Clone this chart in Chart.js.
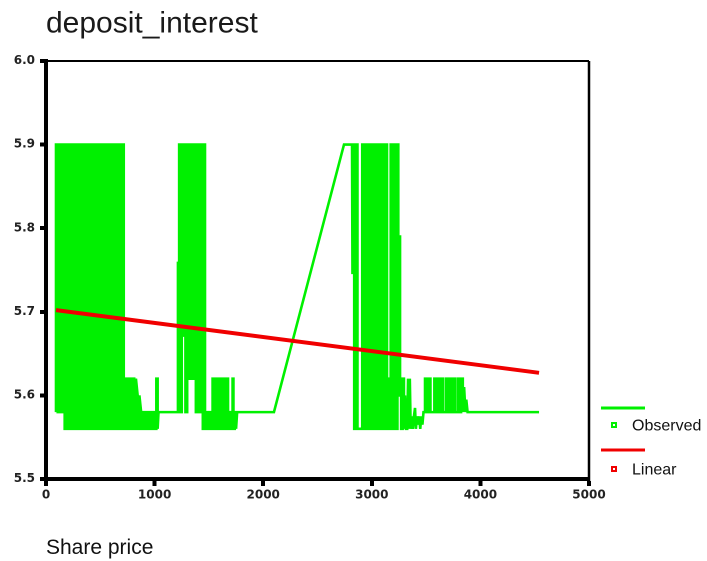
<!DOCTYPE html>
<html>
<head>
<meta charset="utf-8">
<title>deposit_interest</title>
<style>
  html, body { margin: 0; padding: 0; background: #ffffff; }
  canvas { display: block; width: 707px; height: 561px; }
</style>
<script src="https://cdn.jsdelivr.net/npm/chart.js@4.4.1/dist/chart.umd.min.js"></script>
</head>
<body>
<canvas id="chart" width="707" height="561"></canvas>
<script>
// Observed deposit interest rate (%) against share price, ordered by share price.
// Several observations often share a price, so a price can appear twice in a row.
const sharePrice = [
  // first high-rate period
  92,92,108,108,124,124,140,140,156,156,
  172,172,188,188,204,204,220,220,236,236,
  252,252,268,268,284,284,300,300,316,316,
  332,332,348,348,364,364,380,380,396,396,
  412,412,428,428,444,444,460,460,476,476,
  492,492,508,508,524,524,540,540,556,556,
  572,572,588,588,604,604,620,620,636,636,
  652,652,668,668,684,684,700,700,716,716,
  // low-rate stretch
  732,732,748,748,764,764,780,780,796,796,
  812,812,828,828,844,844,860,860,876,876,
  892,892,908,908,924,924,940,940,956,956,
  972,972,988,988,1004,1004,1016,1016,1028,1028,
  1036,1210,
  // second high-rate period
  1215,1215,1220,1226,1226,1242,1242,1250,1250,1266,
  1266,1268,1284,1284,1300,1300,1316,1316,1332,1332,
  1348,1348,1364,1364,1380,1380,1396,1396,1412,1412,
  1428,1428,1444,1444,1458,1458,1464,1464,
  // low-rate stretch and the rise
  1480,1480,1496,1496,1504,1504,1512,1512,1534,1534,
  1550,1550,1566,1566,1582,1582,1598,1598,1614,1614,
  1630,1630,1646,1646,1662,1662,1676,1676,1692,1692,
  1706,1706,1718,1718,1726,1726,1738,1738,1750,1750,
  1760,2099,2744,
  // third high-rate period
  2818,2822,2826,2838,2838,2854,2854,2868,2868,2912,
  2912,2928,2928,2944,2944,2960,2960,2976,2976,2992,
  2992,3008,3008,3024,3024,3040,3040,3056,3056,3072,
  3072,3088,3088,3104,3104,3120,3120,3130,3130,3140,
  3140,3152,3152,3164,3164,3174,3174,3190,3190,3206,
  3206,3222,3222,3236,3236,
  // final low-rate stretch
  3244,3244,3252,3252,3260,3260,3270,3270,3284,3284,
  3296,3296,3306,3314,3326,3334,3342,3350,3358,3368,
  3378,3388,3398,3406,3416,3426,3436,3446,3456,3466,
  3476,3490,3490,3506,3506,3522,3522,3540,3540,3576,
  3576,3592,3592,3608,3608,3624,3624,3640,3640,3656,
  3656,3684,3684,3700,3700,3716,3716,3732,3732,3748,
  3748,3764,3764,3790,3790,3806,3806,3822,3822,3838,
  3838,3850,3862,3870,3882,4540
];

const depositInterest = [
  5.58,5.90,5.90,5.58,5.58,5.90,5.90,5.58,5.58,5.90,
  5.90,5.56,5.56,5.90,5.90,5.56,5.56,5.90,5.90,5.56,
  5.56,5.90,5.90,5.56,5.56,5.90,5.90,5.56,5.56,5.90,
  5.90,5.56,5.56,5.90,5.90,5.56,5.56,5.90,5.90,5.56,
  5.56,5.90,5.90,5.56,5.56,5.90,5.90,5.56,5.56,5.90,
  5.90,5.56,5.56,5.90,5.90,5.56,5.56,5.90,5.90,5.56,
  5.56,5.90,5.90,5.56,5.56,5.90,5.90,5.56,5.56,5.90,
  5.90,5.56,5.56,5.90,5.90,5.56,5.56,5.90,5.90,5.56,

  5.56,5.62,5.62,5.56,5.56,5.62,5.62,5.56,5.56,5.62,
  5.62,5.56,5.56,5.62,5.60,5.56,5.56,5.60,5.58,5.56,
  5.56,5.58,5.58,5.56,5.56,5.58,5.58,5.56,5.56,5.58,
  5.58,5.56,5.56,5.58,5.58,5.56,5.56,5.62,5.62,5.56,
  5.58,5.58,

  5.58,5.76,5.58,5.58,5.90,5.90,5.58,5.58,5.90,5.90,
  5.67,5.90,5.90,5.58,5.58,5.90,5.90,5.62,5.62,5.90,
  5.90,5.62,5.62,5.90,5.90,5.58,5.58,5.90,5.90,5.58,
  5.58,5.90,5.90,5.56,5.56,5.90,5.90,5.56,

  5.56,5.58,5.58,5.56,5.56,5.58,5.58,5.56,5.56,5.62,
  5.62,5.56,5.56,5.62,5.62,5.56,5.56,5.62,5.62,5.56,
  5.56,5.62,5.62,5.56,5.56,5.62,5.62,5.56,5.56,5.58,
  5.58,5.56,5.56,5.62,5.62,5.56,5.56,5.58,5.58,5.56,
  5.58,5.58,5.90,

  5.90,5.745,5.90,5.90,5.56,5.56,5.90,5.90,5.56,5.56,
  5.90,5.90,5.56,5.56,5.90,5.90,5.56,5.56,5.90,5.90,
  5.56,5.56,5.90,5.90,5.56,5.56,5.90,5.90,5.56,5.56,
  5.90,5.90,5.56,5.56,5.90,5.90,5.56,5.56,5.90,5.90,
  5.56,5.56,5.62,5.62,5.56,5.56,5.90,5.90,5.56,5.56,
  5.90,5.90,5.56,5.56,5.90,

  5.90,5.60,5.60,5.79,5.79,5.60,5.62,5.56,5.56,5.62,
  5.62,5.56,5.60,5.56,5.56,5.62,5.56,5.62,5.56,5.575,
  5.56,5.575,5.585,5.56,5.575,5.565,5.575,5.56,5.575,5.565,
  5.58,5.58,5.62,5.62,5.58,5.58,5.62,5.62,5.58,5.58,
  5.62,5.62,5.58,5.58,5.62,5.62,5.58,5.58,5.62,5.62,
  5.58,5.58,5.62,5.62,5.58,5.58,5.62,5.62,5.58,5.58,
  5.62,5.62,5.58,5.58,5.62,5.62,5.58,5.58,5.62,5.62,
  5.58,5.61,5.58,5.595,5.58,5.58
];

// Linear fit of deposit interest on share price, at the ends of the observed range.
const fitPrice = [92, 4540];
const fitInterest = [5.702, 5.627];

// Axis ticks
const priceTicks = [0, 1000, 2000, 3000, 4000, 5000];
const rateTicks = [5.5, 5.6, 5.7, 5.8, 5.9, 6.0];

const seriesNames = ['Observed', 'Linear'];
const GREEN = '#00f000';
const RED = '#f00000';

const toPoints = (xs, ys) => xs.map((x, i) => ({ x: x, y: ys[i] }));

// Thin top and right edges of the plot frame; square corners on the data lines
// while sharp spikes fall back to a flat join.
const frameEdges = {
  id: 'frameEdges',
  beforeDatasetsDraw(chart) {
    const { ctx, chartArea: a } = chart;
    ctx.save();
    ctx.strokeStyle = '#000';
    ctx.lineWidth = 2;
    ctx.beginPath();
    ctx.moveTo(a.left, a.top);
    ctx.lineTo(a.right, a.top);
    ctx.stroke();
    ctx.lineWidth = 2.5;
    ctx.beginPath();
    ctx.moveTo(a.right, a.top);
    ctx.lineTo(a.right, a.bottom + 2);
    ctx.stroke();
    ctx.restore();
    ctx.save();
    ctx.miterLimit = 2;
  },
  afterDatasetsDraw(chart) {
    chart.ctx.restore();
  }
};

// Legend to the right of the plot: a line sample above a small square marker and the name
const sideLegend = {
  id: 'sideLegend',
  afterDraw(chart) {
    const ctx = chart.ctx;
    const rows = [
      { ds: chart.data.datasets[1], lineY: 408, markY: 425 },
      { ds: chart.data.datasets[0], lineY: 450, markY: 469 }
    ];
    ctx.save();
    rows.forEach(r => {
      ctx.strokeStyle = r.ds.borderColor;
      ctx.lineWidth = 3;
      ctx.beginPath();
      ctx.moveTo(601, r.lineY);
      ctx.lineTo(645, r.lineY);
      ctx.stroke();
      ctx.fillStyle = r.ds.borderColor;
      ctx.fillRect(611, r.markY - 3, 6, 6);
      ctx.fillStyle = '#ffffff';
      ctx.fillRect(613, r.markY - 1, 2, 2);
      ctx.fillStyle = '#111';
      ctx.font = '16px "Liberation Sans", Arial, sans-serif';
      ctx.textBaseline = 'middle';
      ctx.textAlign = 'left';
      ctx.fillText(r.ds.label, 632, r.markY + 1);
    });
    ctx.restore();
  }
};

const tickFont = { family: '"DejaVu Sans", sans-serif', size: 12, weight: 'bold' };

new Chart(document.getElementById('chart'), {
  type: 'line',
  data: {
    datasets: [
      {
        label: seriesNames[1],
        data: toPoints(fitPrice, fitInterest),
        borderColor: RED,
        backgroundColor: RED,
        borderWidth: 4,
        pointRadius: 0,
        tension: 0,
        order: 0
      },
      {
        label: seriesNames[0],
        data: toPoints(sharePrice, depositInterest),
        borderColor: GREEN,
        backgroundColor: GREEN,
        borderWidth: 2.6,
        borderJoinStyle: 'miter',
        // one unbroken dash: keeps every point in the path instead of the per-pixel shortcut
        borderDash: [100000, 0],
        pointRadius: 0,
        tension: 0,
        order: 1
      }
    ]
  },
  options: {
    responsive: false,
    animation: false,
    // draw at double resolution so the many closely spaced strokes merge cleanly
    devicePixelRatio: 2,
    layout: { padding: { left: 0, right: 118, top: 0, bottom: 0 } },
    plugins: {
      legend: { display: false },
      tooltip: { enabled: false },
      title: {
        display: true,
        text: 'deposit_interest',
        align: 'start',
        fullSize: false,
        color: '#1a1a1a',
        font: { family: '"Liberation Sans", Arial, sans-serif', size: 30, weight: 'normal' },
        padding: { top: 6, bottom: 19 }
      }
    },
    scales: {
      x: {
        type: 'linear',
        position: 'bottom',
        min: 0,
        max: 5000,
        afterBuildTicks: s => { s.ticks = priceTicks.map(v => ({ value: v })); },
        afterFit: s => { s.height = 82; },
        ticks: {
          autoSkip: false,
          maxRotation: 0,
          padding: 2,
          color: '#222',
          font: tickFont,
          callback: v => String(v)
        },
        grid: {
          display: true,
          drawOnChartArea: false,
          drawTicks: true,
          tickLength: 7,
          tickWidth: 4,
          color: '#000',
          tickColor: '#000'
        },
        border: { display: true, width: 4, color: '#000' },
        title: {
          display: true,
          text: 'Share price',
          align: 'start',
          color: '#111',
          font: { family: '"Liberation Sans", Arial, sans-serif', size: 21, weight: 'normal' },
          padding: { top: 0, bottom: 0 }
        }
      },
      y: {
        type: 'linear',
        position: 'left',
        min: 5.5,
        max: 6.0,
        afterBuildTicks: s => { s.ticks = rateTicks.map(v => ({ value: v })); },
        afterFit: s => { s.width = 46; },
        ticks: {
          padding: 5,
          color: '#222',
          font: tickFont,
          callback: v => Number(v).toFixed(1)
        },
        grid: {
          display: true,
          drawOnChartArea: false,
          drawTicks: true,
          tickLength: 6,
          tickWidth: 4,
          color: '#000',
          tickColor: '#000'
        },
        border: { display: true, width: 4, color: '#000' }
      }
    }
  },
  plugins: [frameEdges, sideLegend]
});
</script>
</body>
</html>
